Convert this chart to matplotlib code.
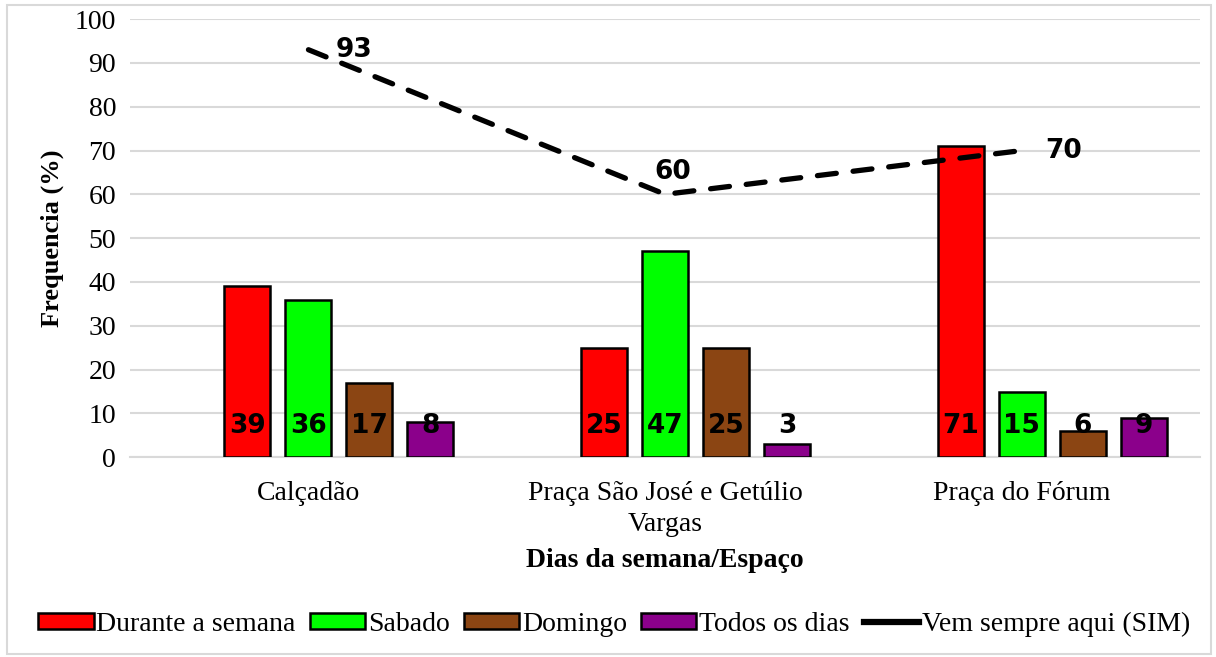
import matplotlib.pyplot as plt
import numpy as np
from matplotlib.patches import Rectangle
from matplotlib.lines import Line2D

categorias = ['Calçadão', 'Praça São José e Getúlio\nVargas', 'Praça do Fórum']
durante = [39, 25, 71]
sabado = [36, 47, 15]
domingo = [17, 25, 6]
todos = [8, 3, 9]
sim = [93, 60, 70]

series = [('Durante a semana', durante, '#ff0000'),
          ('Sabado', sabado, '#00ff00'),
          ('Domingo', domingo, '#8b4513'),
          ('Todos os dias', todos, '#8b008b')]

serif = 'Liberation Serif'
sans = 'DejaVu Sans'

fig = plt.figure(figsize=(12.16, 6.57), dpi=100)
ax = fig.add_axes([0.107, 0.304, 0.88, 0.667])

x = np.arange(len(categorias))
step = 0.171
bw = 0.129
# first slot of the group is empty in the original chart
for i, (name, vals, col) in enumerate(series):
    pos = x + (i - 1) * step
    ax.bar(pos, vals, bw, color=col, edgecolor='black', linewidth=1.8, label=name, zorder=3)
    for p, v in zip(pos, vals):
        ax.text(p, 7.2, str(v), ha='center', va='center', fontsize=19,
                fontweight='bold', family=sans, color='black', zorder=5)

ax.plot(x, sim, color='black', lw=3.8, linestyle=(0, (3.6, 3.2)),
        dash_capstyle='round', zorder=4)
ax.text(x[0] + 0.075, sim[0], str(sim[0]), ha='left', va='center', fontsize=19,
        fontweight='bold', family=sans, zorder=5)
ax.text(x[1] + 0.02, sim[1] + 5.2, str(sim[1]), ha='center', va='center', fontsize=19,
        fontweight='bold', family=sans, zorder=5)
ax.text(x[2] + 0.065, sim[2], str(sim[2]), ha='left', va='center', fontsize=19,
        fontweight='bold', family=sans, zorder=5)

ax.set_xlim(-0.5, 2.5)
ax.set_ylim(0, 100)
ax.set_yticks(np.arange(0, 101, 10))
ax.set_xticks(x)
ax.set_xticklabels(categorias, fontsize=20, family=serif, linespacing=1.3)
for t in ax.get_yticklabels():
    t.set_fontsize(20)
    t.set_family(serif)
ax.tick_params(axis='x', length=0, pad=17)
ax.tick_params(axis='y', length=0, pad=10)
ax.grid(axis='y', color='#d9d9d9', lw=1.5, zorder=0)
for s in ['top', 'right', 'left']:
    ax.spines[s].set_visible(False)
ax.spines['bottom'].set_color('#d9d9d9')
ax.spines['bottom'].set_linewidth(1.5)

ax.set_ylabel('Frequencia (%)', fontsize=19, fontweight='bold', family=serif, labelpad=8)
ax.set_xlabel('Dias da semana/Espaço', fontsize=20, fontweight='bold', family=serif, labelpad=8)

h, l = ax.get_legend_handles_labels()
h.append(Line2D([], [], color='black', lw=4.5))
l.append('Vem sempre aqui (SIM)')
leg = fig.legend(h, l, loc='center',
                 bbox_to_anchor=(0.505, 0.05), ncol=5, frameon=False,
                 prop={'family': serif, 'size': 20}, handlelength=2.0,
                 handleheight=0.55, handletextpad=0.1, columnspacing=0.5)

fig.patches.append(Rectangle((0.006, 0.004), 0.99, 0.989, transform=fig.transFigure,
                             fill=False, edgecolor='#d9d9d9', lw=1.5))

fig.savefig('out.png', dpi=100)
